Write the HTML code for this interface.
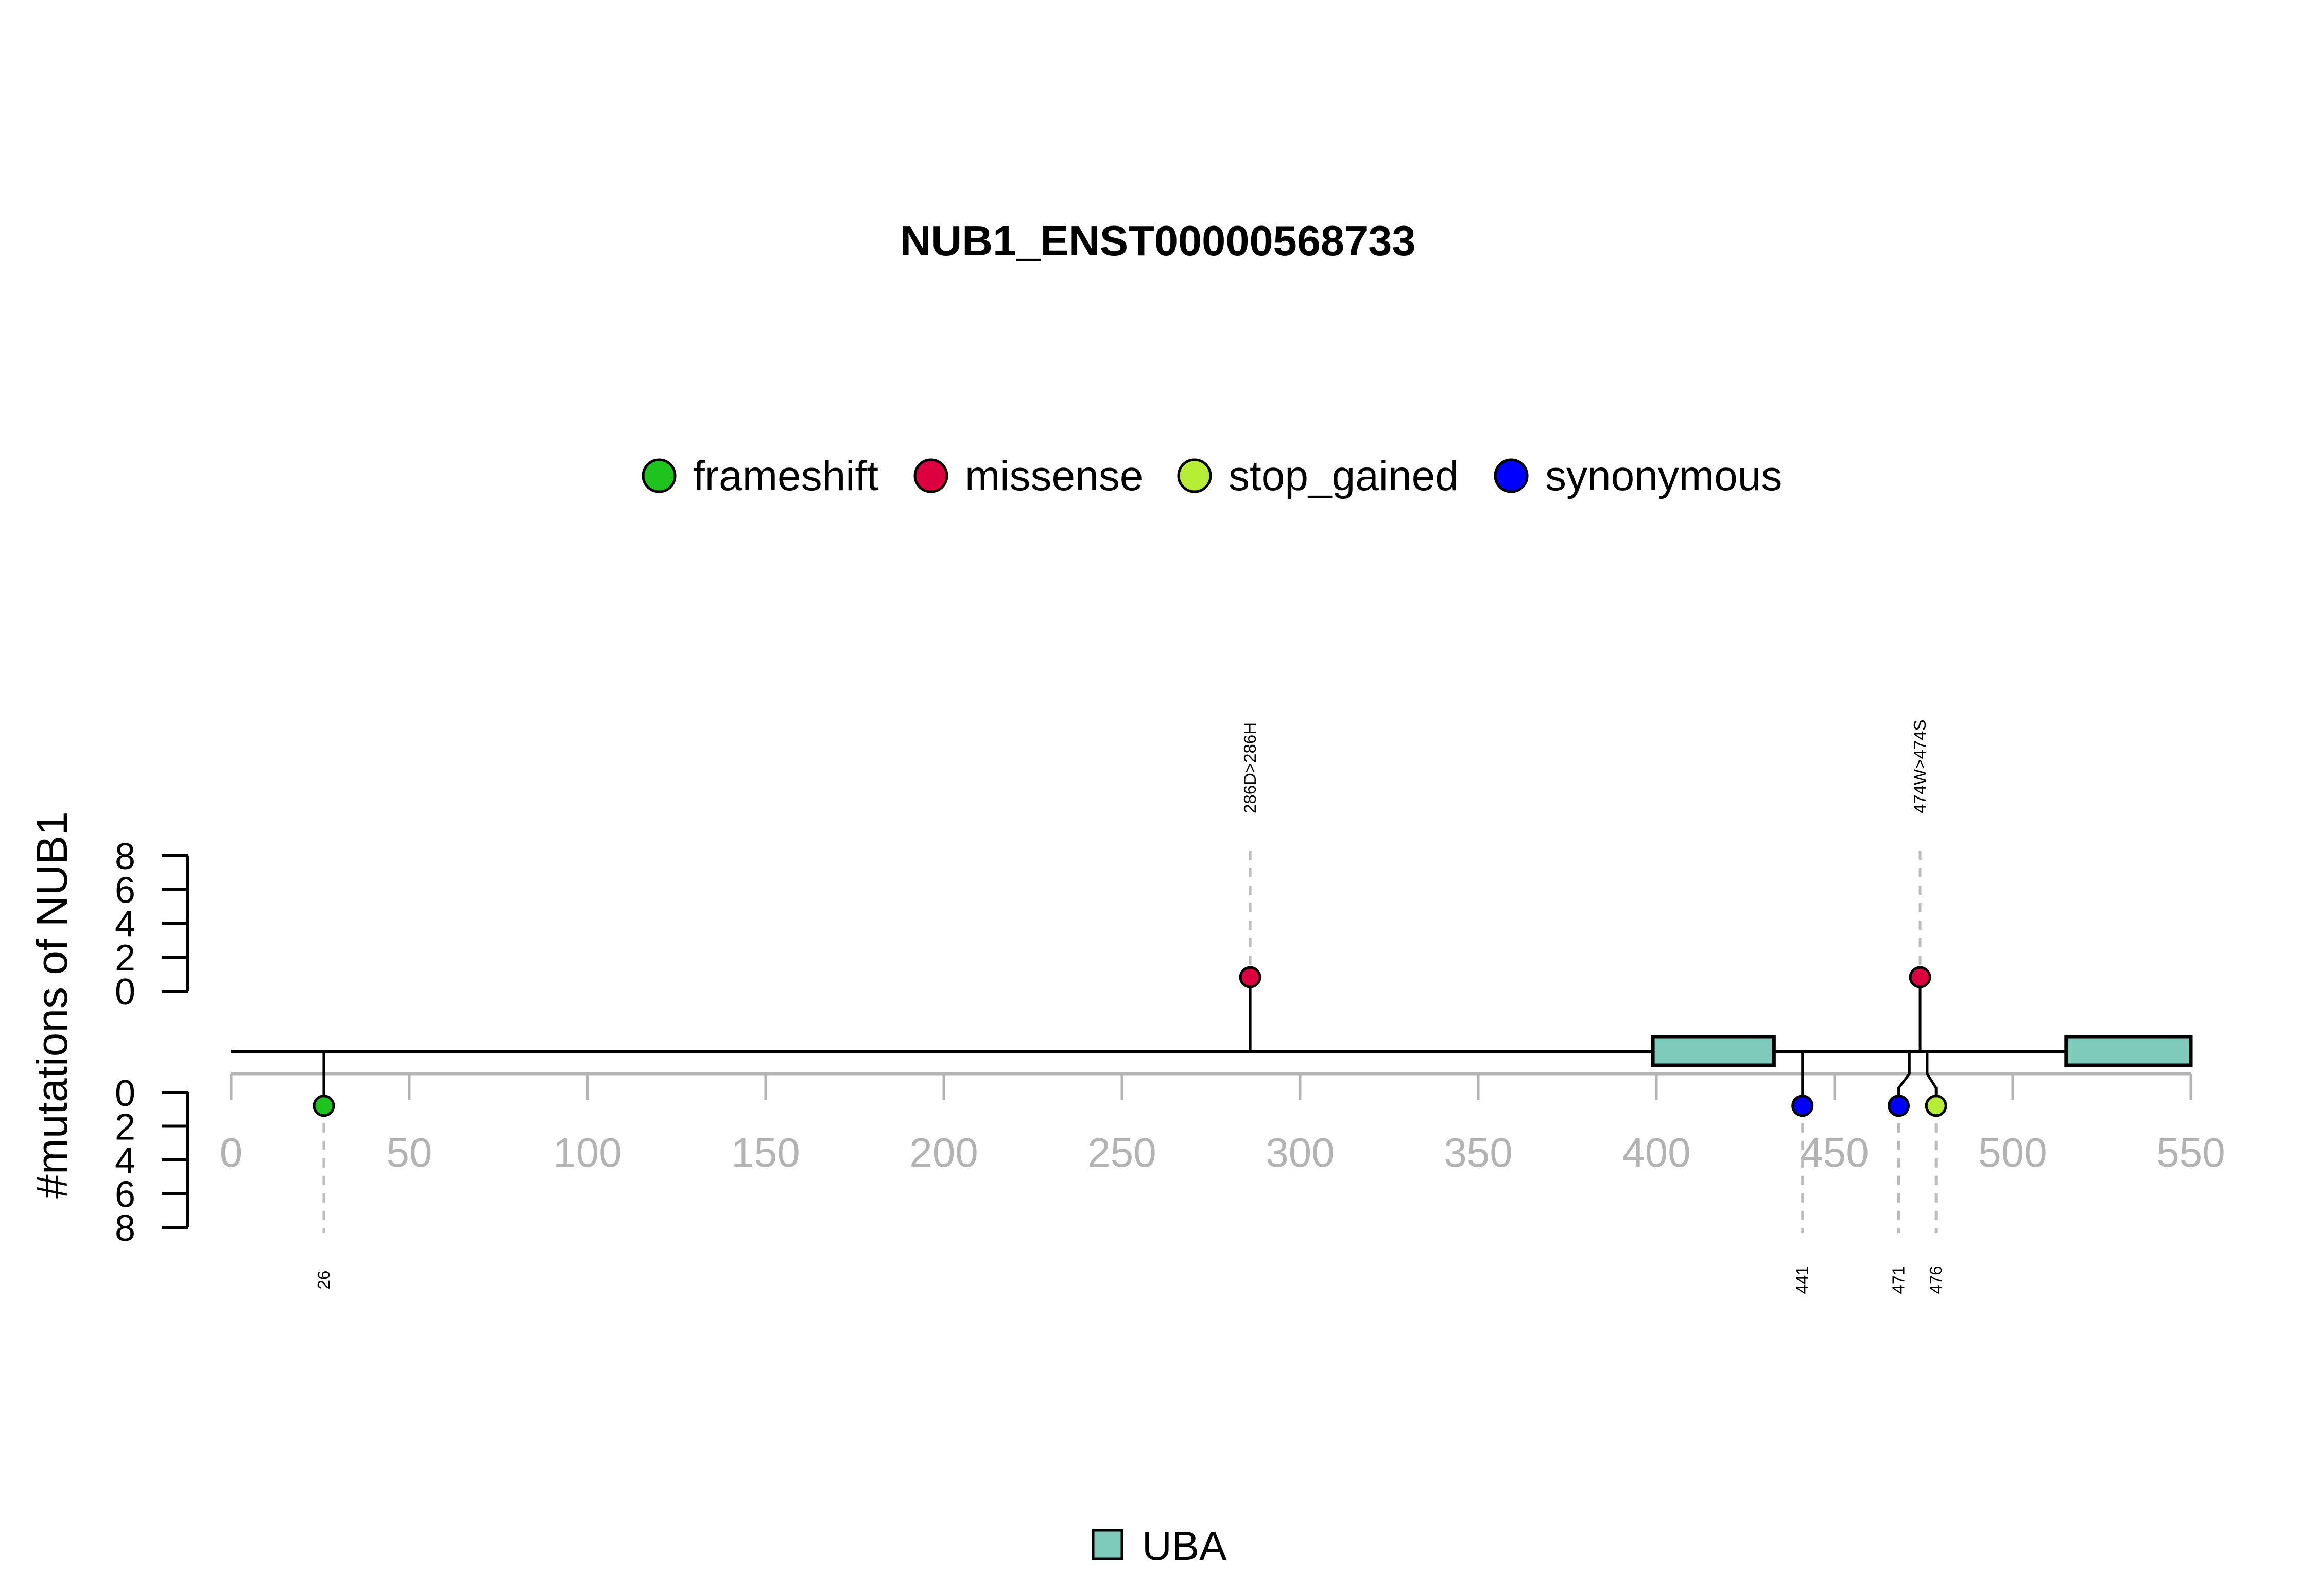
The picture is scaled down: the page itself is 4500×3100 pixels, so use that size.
<!DOCTYPE html>
<html><head><meta charset="utf-8"><style>html,body{margin:0;padding:0;background:#fff}svg{display:block}</style></head>
<body>
<svg id="chart" width="4500" height="3100" viewBox="0 0 4500 3100" xmlns="http://www.w3.org/2000/svg" font-family="'Liberation Sans', Arial, sans-serif">
<rect width="4500" height="3100" fill="#fff"/>
<text x="2249" y="496" font-size="83" font-weight="bold" text-anchor="middle">NUB1_ENST00000568733</text>
<g id="legend"></g>
<text transform="translate(130,1952) rotate(-90)" font-size="84" text-anchor="middle">#mutations of NUB1</text>
<g id="plot"></g>
<rect x="2123" y="2972" width="56" height="56" fill="#7fcbbb" stroke="#000" stroke-width="5"/>
<text x="2218" y="3030" font-size="80">UBA</text>
</svg>
<script>
const legendTypes = ["frameshift","missense","stop_gained","synonymous"];
const legendColors = ["#1ec31e","#dc0040","#b5ee35","#0000ff"];
const xTicks = [0,50,100,150,200,250,300,350,400,450,500,550];
const yTicks = [0,2,4,6,8];
const domainStarts = [399,515];
const domainEnds = [433,550];
const upPositions = [286,474];
const upCounts = [1,1];
const upTypes = ["missense","missense"];
const upLabels = ["286D>286H","474W>474S"];
const downPositions = [26,441,471,476];
const downCounts = [1,1,1,1];
const downTypes = ["frameshift","synonymous","synonymous","stop_gained"];
const downLabels = ["26","441","471","476"];
const downDisplayPositions = [26,441,468,478.5];
const proteinLength = 550;

const NS="http://www.w3.org/2000/svg";
const plot=document.getElementById('plot');
const legend=document.getElementById('legend');
const X=v=>449+v*6.92;
const YU=v=>1925-v*32.9;
const YD=v=>2122+v*32.75;
const bbY=2042, axY=2086;
function mk(tag,attrs,parent){const e=document.createElementNS(NS,tag);for(const k in attrs)e.setAttribute(k,attrs[k]);(parent||plot).appendChild(e);return e;}
const colorOf=t=>legendColors[legendTypes.indexOf(t)];

const legCx=[1280,1808,2320,2935];
legendTypes.forEach((t,i)=>{
  const c=mk('circle',{cx:legCx[i],cy:924,r:31,fill:legendColors[i],stroke:'#000','stroke-width':5},legend);
  
  
  const tx=mk('text',{x:legCx[i]+66,y:952,'font-size':82},legend);
  tx.textContent=t;
  
  
});

function yAxis(fn,name){
  const l=mk('line',{x1:365,x2:365,y1:fn(0),y2:fn(8),stroke:'#000','stroke-width':6});
  
  
  yTicks.forEach(v=>{
    mk('line',{x1:314,x2:365,y1:fn(v),y2:fn(v),stroke:'#000','stroke-width':6});
    const t=mk('text',{x:263,y:fn(v)+26,'font-size':72,'text-anchor':'end'});
    t.textContent=v;
    
    
  });
}
yAxis(YU,'upper-y-axis');
yAxis(YD,'lower-y-axis');

const xa=mk('line',{x1:X(0),x2:X(550),y1:axY,y2:axY,stroke:'#b3b3b3','stroke-width':7});


xTicks.forEach(v=>{
  mk('line',{x1:X(v),x2:X(v),y1:axY,y2:2137,stroke:'#b3b3b3','stroke-width':5});
  const t=mk('text',{x:X(v),y:2266,'font-size':80,fill:'#b3b3b3','text-anchor':'middle'});
  t.textContent=v;
  
  
});

const bb=mk('line',{x1:X(0),x2:X(proteinLength),y1:bbY,y2:bbY,stroke:'#000','stroke-width':6});



upPositions.forEach((p,i)=>{
  const cy=YU(upCounts[i])+6;
  mk('line',{x1:X(p),x2:X(p),y1:1652,y2:cy,stroke:'#bbb','stroke-width':5,'stroke-dasharray':'18 16'});
  mk('line',{x1:X(p),x2:X(p),y1:bbY,y2:cy,stroke:'#000','stroke-width':5});
  const c=mk('circle',{cx:X(p),cy:cy,r:19,fill:colorOf(upTypes[i]),stroke:'#000','stroke-width':5});
  
  
  const t=mk('text',{transform:`translate(${X(p)+11},1580) rotate(-90)`,'font-size':33});
  t.textContent=upLabels[i];
  
  
});

downPositions.forEach((p,i)=>{
  const dx=X(downDisplayPositions[i]);
  const cy=YD(downCounts[i])-7;
  mk('line',{x1:dx,x2:dx,y1:cy,y2:2395,stroke:'#bbb','stroke-width':5,'stroke-dasharray':'18 16'});
  mk('polyline',{points:`${X(p)},${bbY} ${X(p)},${axY} ${dx},2113 ${dx},${cy}`,fill:'none',stroke:'#000','stroke-width':5});
  const c=mk('circle',{cx:dx,cy:cy,r:19,fill:colorOf(downTypes[i]),stroke:'#000','stroke-width':5});
  
  
  const t=mk('text',{transform:`translate(${dx+11},2486) rotate(-90)`,'font-size':33,'text-anchor':'middle'});
  t.textContent=downLabels[i];
  
  
});

domainStarts.forEach((s,i)=>{
  const r=mk('rect',{x:X(s),y:2014,width:X(domainEnds[i])-X(s),height:55,fill:'#7fcbbb',stroke:'#000','stroke-width':7});
  
  
});
</script>
</body></html>
